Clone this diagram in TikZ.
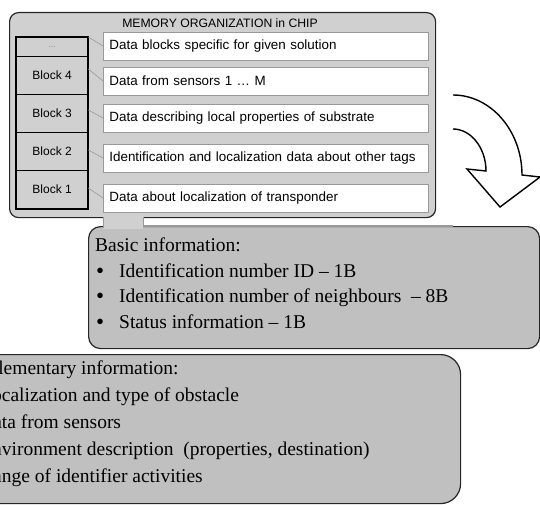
\documentclass[tikz,border=0pt]{standalone}
\usepackage{fontspec}
\setmainfont{Liberation Serif}
\newfontfamily\arialf{Liberation Sans}
\definecolor{memgray}{HTML}{D0D0D0}
\definecolor{boxgray}{HTML}{C0C0C0}
\definecolor{edgegray}{HTML}{999999}
\definecolor{dark}{HTML}{262626}
\begin{document}
\begin{tikzpicture}[x=1pt,y=-1pt,
  membox/.style={draw=dark,line width=1.2pt,fill=memgray,rounded corners=9pt,anchor=north west,inner sep=0pt},
  cellbox/.style={draw=black,line width=1.3pt,fill=memgray,anchor=north west,minimum width=71pt,inner sep=0pt,font=\arialf\fontsize{12}{14}\selectfont},
  databox/.style={draw=edgegray,line width=0.8pt,fill=white,anchor=west,minimum width=325pt,minimum height=28pt,inner sep=0pt,text width=313pt,font=\arialf\fontsize{13.4}{16}\selectfont},
  link/.style={draw=edgegray,line width=0.6pt},
  infobox/.style={draw=dark,line width=1.2pt,fill=boxgray,anchor=north west,inner sep=0pt},
  infotext/.style={anchor=base west,inner sep=0pt,font=\fontsize{19.5}{24}\selectfont},
  bulletmark/.style={anchor=base west,inner sep=0pt,font=\fontsize{23}{24}\selectfont},
]
\clip (0,0) rectangle (540,505);
\useasboundingbox (0,0) rectangle (540,505);

% bottom box (cut off at the left, as in the reference)
\node[infobox,rounded corners=20pt,minimum width=520pt,minimum height=149pt] (supp) at (-60,354) {};
\node[infotext] (s0) at (-42,374) {Supplementary information:};
\node[infotext] (s1) at (-20,401) {Localization and type of obstacle};
\node[infotext] (s2) at (-21,428) {Data from sensors};
\node[infotext] (s3) at (-20,455) {Environment description \ (properties, destination)};
\node[infotext] (s4) at (-20,482) {Range of identifier activities};

% basic box
\node[infobox,rounded corners=12pt,minimum width=451pt,minimum height=122pt] (basic) at (88,226) {};
\draw[edgegray,line width=1.2pt] (143,226) -- (453,226);
\node[infotext] (b0) at (95,251) {Basic information:};
\node[bulletmark] (d1) at (96,278) {•};
\node[infotext] (b1) at (119,277) {Identification number ID – 1B};
\node[bulletmark] (d2) at (96,303.6) {•};
\node[infotext] (b2) at (119,302.6) {Identification number of neighbours \ – 8B};
\node[bulletmark] (d3) at (96,329) {•};
\node[infotext] (b3) at (119,328) {Status information – 1B};

% memory box
\node[membox,minimum width=426pt,minimum height=205pt] (mem) at (9,12) {};
% stem
\fill[memgray] (103,215) rectangle (143,229);
\draw[edgegray,line width=0.8pt] (103,217) -- (103,228) (143,217) -- (143,227);
\node[font=\arialf\fontsize{12.2}{14}\selectfont,inner sep=0pt] (title) at (220,23) {MEMORY ORGANIZATION in CHIP};

% block cells
\node[cellbox,minimum height=19pt,text=gray,font=\arialf\fontsize{8}{10}\selectfont] (dots) at (16,37) {...};
\node[cellbox,minimum height=38pt] (c4) at (16,56) {Block 4};
\node[cellbox,minimum height=38pt] (c3) at (16,94) {Block 3};
\node[cellbox,minimum height=38pt] (c2) at (16,132) {Block 2};
\node[cellbox,minimum height=38pt] (c1) at (16,170) {Block 1};
\draw[black,line width=2pt] (dots.north west) rectangle (c1.south east);

% data boxes
\node[databox] (t5) at (103,46) {Data blocks specific for given solution};
\node[databox] (t4) at (103,81) {Data from sensors 1 … M};
\node[databox] (t3) at (103,118) {Data describing local properties of substrate};
\node[databox] (t2) at (103,158) {Identification and localization data about other tags};
\node[databox] (t1) at (103,198) {Data about localization of transponder};

% connectors
\draw[link] (dots.north east) -- (t5.west);
\draw[link] ([yshift=-13pt]c4.north east) -- (t4.west);
\draw[link] ([yshift=-16pt]c3.north east) -- (t3.west);
\draw[link] ([yshift=-18pt]c2.north east) -- (t2.west);
\draw[link] ([yshift=-18pt]c1.north east) -- (t1.west);

% curved hollow arrow
\draw[black,line width=1.4pt,line join=miter,fill=white]
  (453,129) .. controls (471,129) and (486,148) .. (486,171)
  -- (467,169) -- (500,207) -- (540,177) -- (522,175)
  .. controls (522,131) and (491,95) .. (453,95);
\end{tikzpicture}
\end{document}
